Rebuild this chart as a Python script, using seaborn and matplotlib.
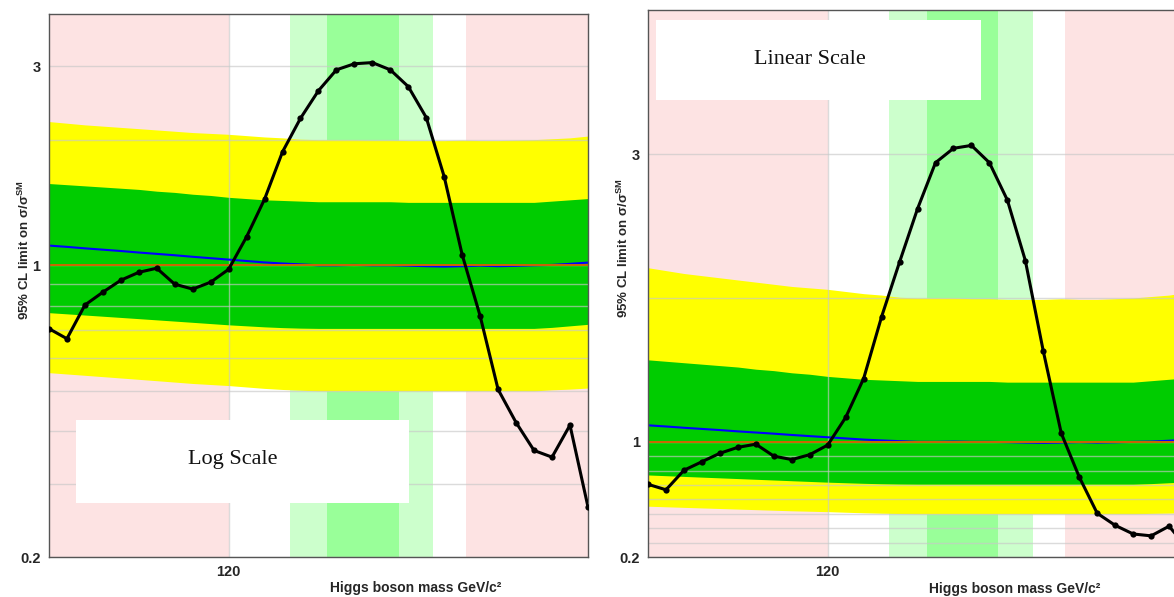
import matplotlib
matplotlib.use("Agg")
import matplotlib.pyplot as plt
import seaborn as sns
from matplotlib.patches import Rectangle
from matplotlib.ticker import FixedLocator, NullFormatter

# Higgs mass points (GeV/c^2)
mass = list(range(110, 141))

# observed 95% CL limit on sigma/sigma_SM
observed = [0.705, 0.667, 0.803, 0.862, 0.921, 0.962, 0.984, 0.901, 0.877, 0.911,
            0.978, 1.17, 1.44, 1.87, 2.25, 2.62, 2.94, 3.04, 3.06, 2.94,
            2.68, 2.26, 1.63, 1.06, 0.756, 0.504, 0.42, 0.36, 0.347, 0.414,
            0.264]

# expected (median) limit
expected = [1.115, 1.107, 1.098, 1.09, 1.082, 1.073, 1.065, 1.057, 1.048, 1.04,
            1.032, 1.024, 1.016, 1.01, 1.005, 1.0, 1.0, 1.002, 1.0, 1.0,
            0.998, 0.995, 0.993, 0.995, 0.998, 0.995, 0.997, 1.0, 1.002, 1.008,
            1.015]

# +/- 1 sigma and +/- 2 sigma bands
plus2 = [2.21, 2.19, 2.17, 2.155, 2.14, 2.125, 2.11, 2.095, 2.08, 2.07,
         2.06, 2.045, 2.03, 2.02, 2.005, 2.0, 2.0, 2.0, 1.995, 1.995,
         1.99, 1.99, 1.99, 1.995, 1.99, 1.99, 1.995, 2.0, 2.01, 2.02,
         2.04]
plus1 = [1.57, 1.56, 1.55, 1.54, 1.53, 1.52, 1.505, 1.495, 1.48, 1.47,
         1.455, 1.445, 1.435, 1.43, 1.425, 1.42, 1.42, 1.42, 1.42, 1.42,
         1.415, 1.415, 1.415, 1.415, 1.415, 1.415, 1.415, 1.415, 1.425, 1.435,
         1.445]
minus1 = [0.77, 0.765, 0.76, 0.755, 0.75, 0.745, 0.74, 0.735, 0.73, 0.725,
          0.72, 0.716, 0.712, 0.709, 0.707, 0.706, 0.706, 0.706, 0.706, 0.706,
          0.706, 0.706, 0.706, 0.706, 0.706, 0.706, 0.706, 0.706, 0.71, 0.716,
          0.722]
minus2 = [0.553, 0.549, 0.545, 0.541, 0.537, 0.533, 0.529, 0.525, 0.521, 0.518,
          0.515, 0.511, 0.507, 0.504, 0.502, 0.5, 0.5, 0.5, 0.5, 0.5,
          0.5, 0.5, 0.5, 0.5, 0.5, 0.5, 0.5, 0.5, 0.503, 0.505,
          0.508]

# shaded mass ranges
pink_spans = [(110, 120), (133.2, 140)]
light_green_spans = [(123.4, 125.5), (129.5, 131.4)]
green_spans = [(125.5, 129.5)]

y_major = [0.2, 1, 3]
y_major_labels = ["0.2", "1", "3"]
y_minor = [0.3, 0.4, 0.5, 0.6, 0.7, 0.8, 0.9, 2]
x_major = [120]

sns.set_theme(style="white")
plt.rcParams["font.family"] = ["Liberation Sans", "DejaVu Sans"]
plt.rcParams["font.weight"] = "bold"
plt.rcParams["mathtext.fontset"] = "custom"
plt.rcParams["mathtext.bf"] = "Liberation Sans:bold"
plt.rcParams["mathtext.rm"] = "Liberation Sans:bold"


def draw_panel(ax, log, label, box, text_xy):
    for a, b in pink_spans:
        ax.axvspan(a, b, color="#fde3e3", lw=0, zorder=0.2)
    for a, b in light_green_spans:
        ax.axvspan(a, b, color="#ccffcc", lw=0, zorder=0.2)
    for a, b in green_spans:
        ax.axvspan(a, b, color="#99ff99", lw=0, zorder=0.2)

    ax.fill_between(mass, minus2, plus2, color="#ffff00", lw=0, zorder=1)
    ax.fill_between(mass, minus1, plus1, color="#00cc00", lw=0, zorder=1.1)

    if log:
        ax.set_yscale("log")
    ax.set_xlim(110, 140)
    ax.set_ylim(0.2, 4)

    sns.lineplot(x=mass, y=expected, ax=ax, color="#0000ff", lw=1.5, zorder=2)
    ax.axhline(1, color="#cc6600", lw=1.4, zorder=2.1)
    sns.lineplot(x=mass, y=observed, ax=ax, color="black", lw=2.2,
                 marker="o", markersize=4.5, markeredgewidth=0, zorder=3)

    ax.set_yticks(y_major)
    ax.set_yticklabels(y_major_labels)
    ax.yaxis.set_minor_locator(FixedLocator(y_minor))
    ax.yaxis.set_minor_formatter(NullFormatter())
    ax.set_xticks(x_major)
    ax.set_xticklabels([str(v) for v in x_major])
    ax.tick_params(which="both", length=0, labelsize=10.5, pad=6)

    ax.set_axisbelow("line")
    ax.grid(True, which="both", color="#c8c8c8", alpha=0.65, lw=1)

    for s in ax.spines.values():
        s.set_color("#555555")
        s.set_linewidth(1)

    ax.set_xlabel("Higgs boson mass GeV/c²", fontsize=10, fontweight="bold")
    ax.xaxis.set_label_coords(0.68, -0.045)
    ax.set_ylabel("95% CL limit on σ/σ$^{\\mathbf{SM}}$", fontsize=9.5, fontweight="bold")
    ax.yaxis.set_label_coords(-0.031, 0.565)

    x0, y0, x1, y1 = box
    ax.add_patch(Rectangle((x0, y0), x1 - x0, y1 - y0, transform=ax.transAxes,
                           facecolor="white", edgecolor="none", zorder=1.8))
    ax.text(text_xy[0], text_xy[1], label, transform=ax.transAxes,
            ha="center", va="center", fontsize=16, family="Liberation Serif",
            fontweight="normal", color="#111111", zorder=1.9)


fig = plt.figure(figsize=(11.74, 5.97), dpi=100)
ax1 = fig.add_axes([0.0417, 0.067, 0.4591, 0.9095])
ax2 = fig.add_axes([0.552, 0.067, 0.4591, 0.916])

draw_panel(ax1, True, "Log Scale", (0.05, 0.0995, 0.668, 0.252), (0.341, 0.179))
draw_panel(ax2, False, "Linear Scale", (0.015, 0.835, 0.618, 0.982), (0.30, 0.909))

fig.savefig("out.png", dpi=100)
plt.close(fig)
